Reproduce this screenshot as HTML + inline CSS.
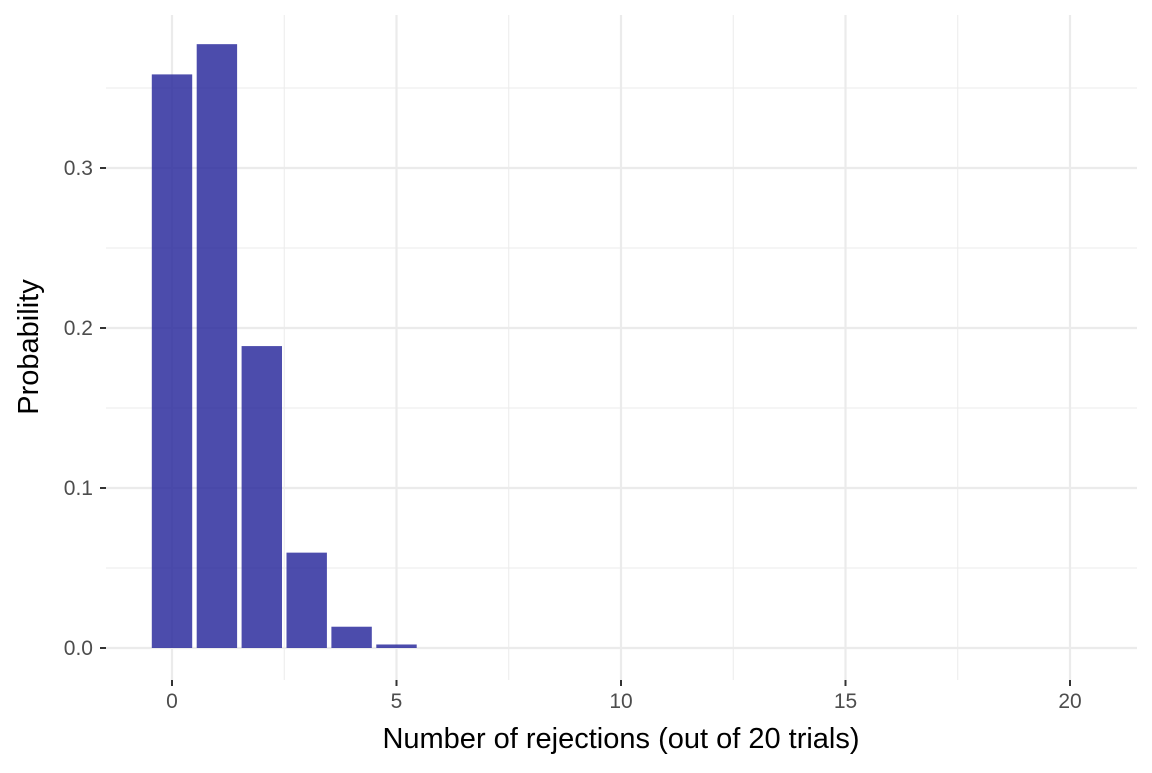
<!DOCTYPE html>
<html><head><meta charset="utf-8"><style>
body{margin:0;background:#fff;}
svg{font-family:"Liberation Sans",sans-serif;}
</style></head><body>
<svg id="chart" width="1152" height="768" xmlns="http://www.w3.org/2000/svg">
<g id="grid"></g><g id="bars"></g><g id="axes"></g>
<text x="621" y="748" text-anchor="middle" font-size="29" fill="#000">Number of rejections (out of 20 trials)</text>
<text transform="translate(38,347) rotate(-90)" text-anchor="middle" font-size="29" fill="#000">Probability</text>
</svg>
<script>
const categories=[0,1,2,3,4,5,6,7,8,9,10,11,12,13,14,15,16,17,18,19,20];
const probs=[0.3585,0.3774,0.1887,0.0596,0.0133,0.0022,0,0,0,0,0,0,0,0,0,0,0,0,0,0,0];
const xTicks=[0,5,10,15,20];
const yTicks=[0,0.1,0.2,0.3];
const yMinor=[0.05,0.15,0.25,0.35];
const xMinor=[2.5,7.5,12.5,17.5];
const L=106,R=1137,T=15,B=680;
const sx=v=>172+v*(1070-172)/20;
const sy=v=>648-v*1600;
const NS="http://www.w3.org/2000/svg";
function mk(tag,attrs,parent){const e=document.createElementNS(NS,tag);for(const k in attrs)e.setAttribute(k,attrs[k]);parent.appendChild(e);return e;}
const grid=document.getElementById('grid'),bars=document.getElementById('bars'),axes=document.getElementById('axes');
yMinor.forEach(v=>{const l=mk('line',{x1:L,x2:R,y1:sy(v),y2:sy(v),stroke:'#ebebeb','stroke-width':1},grid);

});
xMinor.forEach(v=>{const l=mk('line',{x1:sx(v),x2:sx(v),y1:T,y2:B,stroke:'#ebebeb','stroke-width':1},grid);

});
yTicks.forEach(v=>{const l=mk('line',{x1:L,x2:R,y1:sy(v),y2:sy(v),stroke:'#ebebeb','stroke-width':2.2},grid);


const t=mk('line',{x1:100,x2:106,y1:sy(v),y2:sy(v),stroke:'#333','stroke-width':2},axes);


const tx=mk('text',{x:93,y:sy(v)+7,'text-anchor':'end','font-size':21,fill:'#4d4d4d'},axes);tx.textContent=v.toFixed(1);

});
xTicks.forEach(v=>{const l=mk('line',{x1:sx(v),x2:sx(v),y1:T,y2:B,stroke:'#ebebeb','stroke-width':2.2},grid);


const t=mk('line',{x1:sx(v),x2:sx(v),y1:680,y2:686,stroke:'#333','stroke-width':2},axes);


const tx=mk('text',{x:sx(v),y:708,'text-anchor':'middle','font-size':21,fill:'#4d4d4d'},axes);tx.textContent=v;

});
categories.forEach((c,i)=>{const p=probs[i];if(p<=0)return;const w=0.9*(sx(1)-sx(0));
const r=mk('rect',{x:sx(c)-w/2,y:sy(p),width:w,height:Math.max(0,sy(0)-sy(p)),fill:'rgba(40,40,155,0.83)'},bars);

});
</script>
</body></html>
